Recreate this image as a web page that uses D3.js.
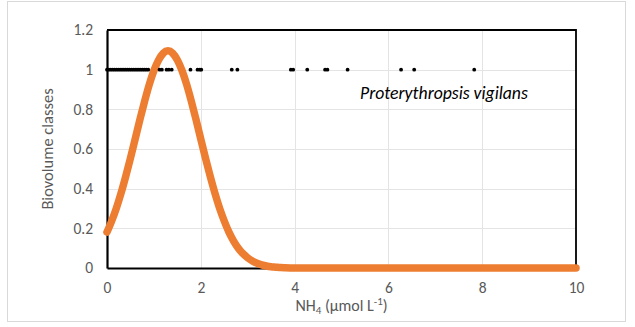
<!DOCTYPE html>
<html>
<head>
<meta charset="utf-8">
<script src="https://cdn.jsdelivr.net/npm/d3@7"></script>
<style>
  html, body { margin: 0; padding: 0; background: #fff; }
  svg text { font-family: Calibri, Carlito, Lato, "Open Sans", sans-serif; }
</style>
</head>
<body>
<svg id="chart" width="635" height="327"></svg>
<script>
// Fitted response curve of biovolume class against NH4 concentration
const curveX = [0, 0.1, 0.2, 0.3, 0.4, 0.5, 0.6, 0.7, 0.8, 0.9, 1.0, 1.1, 1.2, 1.3, 1.4, 1.5, 1.6, 1.7, 1.8, 1.9,
                2.0, 2.1, 2.2, 2.3, 2.4, 2.5, 2.6, 2.7, 2.8, 2.9, 3.0, 3.1, 3.2, 3.3, 3.4, 3.5, 3.6, 3.7, 3.8, 4.0,
                4.5, 5, 5.5, 6, 6.5, 7, 7.5, 8, 8.5, 9, 9.5, 10];
const curveY = [0.181, 0.237, 0.302, 0.378, 0.463, 0.554, 0.650, 0.747, 0.839, 0.924, 0.995, 1.049, 1.083, 1.095, 1.083, 1.049, 0.995, 0.924, 0.839, 0.747,
                0.650, 0.554, 0.463, 0.378, 0.302, 0.237, 0.181, 0.136, 0.100, 0.072, 0.051, 0.035, 0.024, 0.016, 0.010, 0.006, 0.004, 0.002, 0.001, 0,
                0, 0, 0, 0, 0, 0, 0, 0, 0, 0, 0, 0];

// Observed presences (biovolume class 1)
const obsX = [0, 0.04, 0.08, 0.12, 0.16, 0.20, 0.24, 0.28, 0.32, 0.36, 0.40, 0.44, 0.48,
              0.52, 0.56, 0.60, 0.64, 0.68, 0.72, 0.76, 0.80, 0.84, 0.88,
              1.12, 1.17, 1.27, 1.32, 1.38, 1.78, 1.93, 1.98, 2.01, 2.66, 2.78,
              3.92, 3.97, 4.27, 4.65, 4.70, 5.13, 6.27, 6.55, 7.83];
const obsY = obsX.map(() => 1);

const xTicks = [0, 2, 4, 6, 8, 10];
const yTicks = [0, 0.2, 0.4, 0.6, 0.8, 1, 1.2];
const yTickLabels = ["0", "0.2", "0.4", "0.6", "0.8", "1", "1.2"];

const svg = d3.select("#chart");

// Chart frame
svg.append("rect")
  .attr("x", 7.5).attr("y", 1.5).attr("width", 618).attr("height", 320)
  .attr("fill", "#fff").attr("stroke", "#d9d9d9").attr("stroke-width", 1);

const x = d3.scaleLinear().domain([0, 10]).range([107, 576]);
const y = d3.scaleLinear().domain([0, 1.2]).range([268, 30]);

// Gridlines
const grid = svg.append("g");
grid.selectAll("line.gy").data(yTicks.slice(1, -1)).join("line")
  .attr("x1", x(0)).attr("x2", x(10))
  .attr("y1", d => Math.round(y(d)) + 0.5).attr("y2", d => Math.round(y(d)) + 0.5)
  .attr("stroke", "#e4e4e4").attr("stroke-width", 1);
grid.selectAll("line.gx").data(xTicks.slice(1, -1)).join("line")
  .attr("y1", y(0)).attr("y2", y(1.2))
  .attr("x1", d => Math.round(x(d)) + 0.5).attr("x2", d => Math.round(x(d)) + 0.5)
  .attr("stroke", "#e4e4e4").attr("stroke-width", 1);

// Plot-area border (top and right)
svg.append("path")
  .attr("d", `M${x(0)},${y(1.2)}H${x(10)}V${y(0)}`)
  .attr("fill", "none").attr("stroke", "#000").attr("stroke-width", 1.8);

// Axes
const xAxis = d3.axisBottom(x).tickValues(xTicks).tickSize(0).tickPadding(14).tickFormat(d3.format("d"));
const yAxis = d3.axisLeft(y).tickValues(yTicks).tickSize(0).tickPadding(14)
  .tickFormat((d, i) => yTickLabels[i]);

const gx = svg.append("g").attr("transform", `translate(0,${y(0)})`).call(xAxis);
const gy = svg.append("g").attr("transform", `translate(${x(0)},0)`).call(yAxis);
[gx, gy].forEach(g => {
  g.select(".domain").attr("stroke", "#000").attr("stroke-width", 2.2);
  g.selectAll("text").attr("fill", "#595959").attr("font-size", 15.5);
});

// Fitted curve
const pts = curveX.map((v, i) => [v, curveY[i]]);
svg.append("path")
  .datum(pts)
  .attr("d", d3.line().x(d => x(d[0])).y(d => y(d[1])).curve(d3.curveMonotoneX))
  .attr("fill", "none").attr("stroke", "#ED7D31").attr("stroke-width", 7.5)
  .attr("stroke-linecap", "round").attr("stroke-linejoin", "round");

// Observations
svg.append("g").selectAll("circle").data(obsX).join("circle")
  .attr("cx", d => x(d)).attr("cy", (d, i) => y(obsY[i])).attr("r", 1.9)
  .attr("fill", "#000");

// Axis titles
svg.append("text")
  .attr("transform", `translate(53,${(y(0) + y(1.2)) / 2}) rotate(-90)`)
  .attr("text-anchor", "middle").attr("fill", "#595959").attr("font-size", 16.5)
  .text("Biovolume classes");

const xt = svg.append("text")
  .attr("x", (x(0) + x(10)) / 2).attr("y", 311)
  .attr("text-anchor", "middle").attr("fill", "#595959").attr("font-size", 16);
xt.append("tspan").text("NH");
xt.append("tspan").attr("font-size", 11).attr("dy", 3).text("4");
xt.append("tspan").attr("dy", -3).text(" (µmol L");
xt.append("tspan").attr("font-size", 11).attr("dy", -6).text("-1");
xt.append("tspan").attr("dy", 6).text(")");

// Species label
svg.append("text")
  .attr("x", 360).attr("y", 99)
  .attr("font-style", "italic").attr("font-size", 17.7).attr("fill", "#000")
  .text("Proterythropsis vigilans");
</script>
</body>
</html>
